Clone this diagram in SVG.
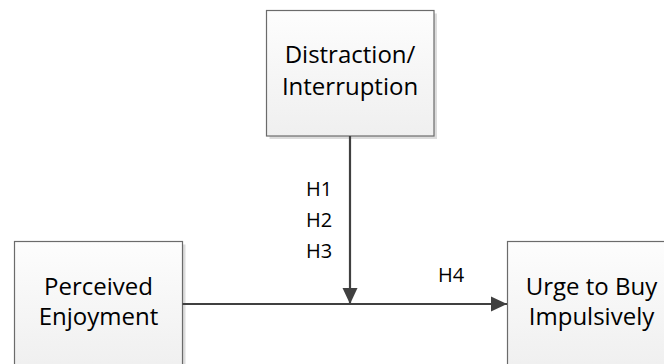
<svg xmlns="http://www.w3.org/2000/svg" width="664" height="364" viewBox="0 0 664 364">
<style>
.box{fill:url(#g);stroke:#6b6b6b;stroke-width:1.2}
.sh{fill:#dcdcdc}
.t{font-family:"Open Sans","Liberation Sans",sans-serif;font-size:24px;fill:#000;text-anchor:middle}
.h{font-family:"Open Sans","Liberation Sans",sans-serif;font-size:20px;fill:#000}
.c{stroke:#404040;stroke-width:2.2;fill:none}
</style>
<defs>
<linearGradient id="g" x1="0" y1="0" x2="0" y2="1">
<stop offset="0" stop-color="#fdfdfd"/>
<stop offset="1" stop-color="#efefef"/>
</linearGradient>
<marker id="a" viewBox="0 0 16 16" refX="16" refY="8" markerWidth="16" markerHeight="16" markerUnits="userSpaceOnUse" orient="auto">
<path d="M0,0.5 L16,8 L0,15.5 Z" fill="#404040"/>
</marker>
</defs>
<g id="distraction">
<rect class="sh" x="269.5" y="13.5" width="167.5" height="125.5"/>
<rect class="box" x="266.5" y="10.5" width="167.5" height="125.5"/>
<text class="t" x="350" y="63">Distraction/</text>
<text class="t" x="350" y="95">Interruption</text>
</g>
<g id="enjoyment">
<rect class="sh" x="17.5" y="244.5" width="168" height="130"/>
<rect class="box" x="14.5" y="241.5" width="168" height="130"/>
<text class="t" x="98.5" y="295">Perceived</text>
<text class="t" x="98.5" y="325">Enjoyment</text>
</g>
<g id="urge">
<rect class="sh" x="510.5" y="244.5" width="168" height="130"/>
<rect class="box" x="507.5" y="241.5" width="168" height="130"/>
<text class="t" x="591.5" y="295">Urge to Buy</text>
<text class="t" x="591.5" y="325">Impulsively</text>
</g>
<g id="connectors">
<line class="c" x1="182.5" y1="304" x2="507" y2="304" marker-end="url(#a)"/>
<line class="c" x1="350" y1="136" x2="350" y2="304" marker-end="url(#a)"/>
<text class="h" x="306" y="196">H1</text>
<text class="h" x="306" y="227">H2</text>
<text class="h" x="306" y="258">H3</text>
<text class="h" x="438" y="282">H4</text>
</g>
</svg>
